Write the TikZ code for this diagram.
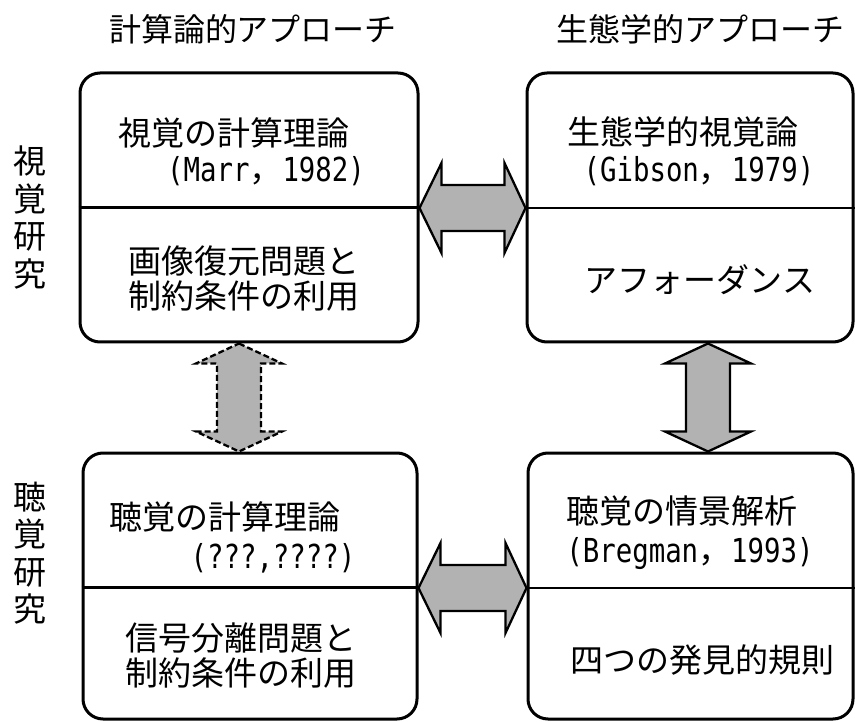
\documentclass[tikz,border=0pt]{standalone}
\usepackage{fontspec}
\usepackage{graphicx}
\setmainfont{Noto Sans CJK JP}
\newfontfamily\latmono{DejaVu Sans Mono}
\usetikzlibrary{calc}
\newcommand\hm[1]{\scalebox{0.83}[1]{\latmono #1}}
\newcommand\HArrow[3]{%
  \filldraw[#3] (#1) -- ($(#1)+(22,-45)$) -- ($(#1)+(22,-23)$) -- ($(#2)+(-21,-23)$) -- ($(#2)+(-21,-45)$) -- (#2)
    -- ($(#2)+(-21,45)$) -- ($(#2)+(-21,23)$) -- ($(#1)+(22,23)$) -- ($(#1)+(22,45)$) -- cycle;}
\newcommand\VArrow[3]{%
  \filldraw[#3] (#1) -- ($(#1)+(43,20)$) -- ($(#1)+(22,20)$) -- ($(#2)+(22,-20)$) -- ($(#2)+(43,-20)$) -- (#2)
    -- ($(#2)+(-43,-20)$) -- ($(#2)+(-22,-20)$) -- ($(#1)+(-22,20)$) -- ($(#1)+(-43,20)$) -- cycle;}
\tikzset{
  panel/.style={draw=black, line width=3pt, rounded corners=20pt, rectangle, inner sep=0pt},
  divline/.style={draw=black, line width=2.3pt},
  lbl/.style={font=\fontsize{33}{40}\selectfont, inner sep=0pt, anchor=base},
  hdr/.style={font=\fontsize{32}{38}\selectfont, inner sep=0pt, anchor=base},
  bigarrow/.style={draw=black, fill=black!30, line width=2.3pt, line join=miter},
  dasharrow/.style={bigarrow, dash pattern=on 6pt off 3pt}
}
\begin{document}
\begin{tikzpicture}[x=1pt,y=-1pt]
\useasboundingbox (0,0) rectangle (855,722);
\fill[white] (0,0) rectangle (855,722);

% panels
\node[panel, minimum width=338pt, minimum height=269pt] (tl) at (249,207.5) {};
\node[panel, minimum width=326pt, minimum height=269pt] (tr) at (690,207.5) {};
\node[panel, minimum width=334pt, minimum height=266pt] (bl) at (250,586) {};
\node[panel, minimum width=325pt, minimum height=266pt] (br) at (690.5,586) {};

% dividers
\draw[divline] (tl.west) -- (tl.east);
\draw[divline] ($(tr.west)+(0,0.5)$) -- ($(tr.east)+(0,0.5)$);
\draw[divline] ($(bl.west)+(0,1.5)$) -- ($(bl.east)+(0,1.5)$);
\draw[divline] ($(br.west)+(0,2)$) -- ($(br.east)+(0,2)$);

% arrows
\coordinate (ha1) at ($(tl.east)+(0,0.5)$);
\coordinate (ha2) at ($(tr.west)+(0,0.5)$);
\coordinate (hb1) at ($(bl.east)+(0,2)$);
\coordinate (hb2) at ($(br.west)+(0,2)$);
\coordinate (va1) at ($(tl.south)+(-10,0)$);
\coordinate (va2) at ($(bl.north)+(-11,0)$);
\coordinate (vb1) at ($(tr.south)+(18,0)$);
\coordinate (vb2) at ($(br.north)+(17.5,0)$);
\HArrow{ha1}{ha2}{bigarrow}
\HArrow{hb1}{hb2}{bigarrow}
\VArrow{va1}{va2}{dasharrow}
\VArrow{vb1}{vb2}{bigarrow}

% headers
\node[hdr] (h1) at (253,42) {計算論的アプローチ};
\node[hdr] (h2) at (700,42) {生態学的アプローチ};

% side labels
\foreach \c [count=\i] in {視,覚,研,究}
  \node[lbl] (sv\i) at (30,{174+37.5*(\i-1)}) {\c};
\foreach \c [count=\i] in {聴,覚,研,究}
  \node[lbl] (sa\i) at (30,{509+37.5*(\i-1)}) {\c};

% panel texts
\node[lbl] (tl1) at (234,146) {視覚の計算理論};
\node[lbl] (tl2) at (266,182) {\hm{(Marr}，\hm{1982)}};
\node[lbl] (tl3) at (244,274) {画像復元問題と};
\node[lbl] (tl4) at (244,309) {制約条件の利用};
\node[lbl] (tr1) at (683,145) {生態学的視覚論};
\node[lbl] (tr2) at (699,182) {\hm{(Gibson}，\hm{1979)}};
\node[lbl] (tr3) at (700,293) {アフォーダンス};
\node[lbl] (bl1) at (225,529) {聴覚の計算理論};
\node[lbl] (bl2) at (273,568) {\hm{(???,????)}};
\node[lbl] (bl3) at (241,650) {信号分離問題と};
\node[lbl] (bl4) at (241,685) {制約条件の利用};
\node[lbl] (br1) at (682,523) {聴覚の情景解析};
\node[lbl] (br2) at (690,562) {\hm{(Bregman}，\hm{1993)}};
\node[lbl] (br3) at (702,672) {四つの発見的規則};
\end{tikzpicture}
\end{document}
